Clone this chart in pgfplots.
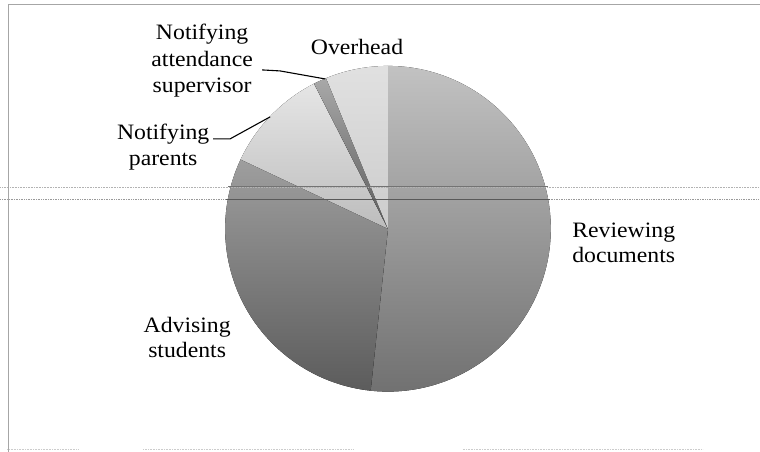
\documentclass[border=0pt]{standalone}
\usepackage{fontspec}
\setmainfont{Liberation Serif}[FakeStretch=1.08]
\usepackage{pgfplots}
\usepackage{pgfplotstable}
\pgfplotsset{compat=1.18}
\definecolor{revtop}{gray}{0.76}
\definecolor{revbot}{gray}{0.44}
\definecolor{advtop}{gray}{0.62}
\definecolor{advbot}{gray}{0.36}
\definecolor{partop}{gray}{0.90}
\definecolor{parbot}{gray}{0.74}
\definecolor{atttop}{gray}{0.66}
\definecolor{attbot}{gray}{0.36}
\definecolor{ovtop}{gray}{0.88}
\definecolor{ovbot}{gray}{0.80}
% slice shares in percent, clockwise from 12 o'clock
\pgfplotstableread{
value top bottom
51.7 revtop revbot
30.3 advtop advbot
10.5 partop parbot
1.3 atttop attbot
6.2 ovtop ovbot
}\piedata
\begin{document}
\begin{tikzpicture}
\begin{axis}[
  scale only axis, width=760pt, height=452pt,
  xmin=0, xmax=760, ymin=0, ymax=452,
  enlargelimits=false, hide axis, clip=false]
\path (axis cs:0,0) rectangle (axis cs:760,452);
\xdef\curang{90}
\pgfplotsforeachungrouped \i in {0,...,4}{%
  \pgfplotstablegetelem{\i}{value}\of\piedata \let\val\pgfplotsretval
  \pgfplotstablegetelem{\i}{top}\of\piedata \let\tc\pgfplotsretval
  \pgfplotstablegetelem{\i}{bottom}\of\piedata \let\bc\pgfplotsretval
  \pgfmathsetmacro\endang{\curang-3.6*\val}%
  \edef\temp{\noexpand\fill[top color=\tc, bottom color=\bc, draw=none]
    (axis cs:388,223) -- ++(\curang:163pt)
    arc[start angle=\curang, end angle=\endang, radius=163pt] -- cycle;}%
  \temp
  \xdef\curang{\endang}%
}
% scan artefacts: horizontal dotted lines
\addplot[gray!60, densely dotted, line width=0.6pt] coordinates {(0,265) (760,265)};
\addplot[gray!80, densely dotted, line width=0.7pt] coordinates {(0,252) (760,252)};
\addplot[black!55, line width=0.7pt] coordinates {(228,265) (548,265)};
\addplot[black!65, line width=0.8pt] coordinates {(226,252) (550,252)};
% frame
\addplot[gray!70, line width=0.8pt] coordinates {(8,0) (8,448) (760,448)};
\addplot[gray!40, densely dotted, line width=0.6pt] coordinates {(7,2) (78,2)};
\addplot[gray!40, densely dotted, line width=0.6pt] coordinates {(143,2) (354,2)};
\addplot[gray!40, densely dotted, line width=0.6pt] coordinates {(463,2) (703,2)};
% leader lines
\addplot[black, line width=1.1pt] coordinates {(262,382) (280,381) (325,373)};
\addplot[black, line width=1.1pt] coordinates {(213,313) (230,313) (270,335)};
% labels
\begin{scope}[every node/.style={font=\fontsize{22pt}{26pt}\selectfont, anchor=base, inner sep=0pt}]
\node at (axis cs:357,397) {Overhead};
\node at (axis cs:202,412) {Notifying};
\node at (axis cs:202,385) {attendance};
\node at (axis cs:202,359) {supervisor};
\node at (axis cs:163,312) {Notifying};
\node at (axis cs:163,286) {parents};
\node at (axis cs:624,214) {Reviewing};
\node at (axis cs:624,189) {documents};
\node at (axis cs:187,119) {Advising};
\node at (axis cs:187,94) {students};
\end{scope}
\end{axis}
\end{tikzpicture}
\end{document}
